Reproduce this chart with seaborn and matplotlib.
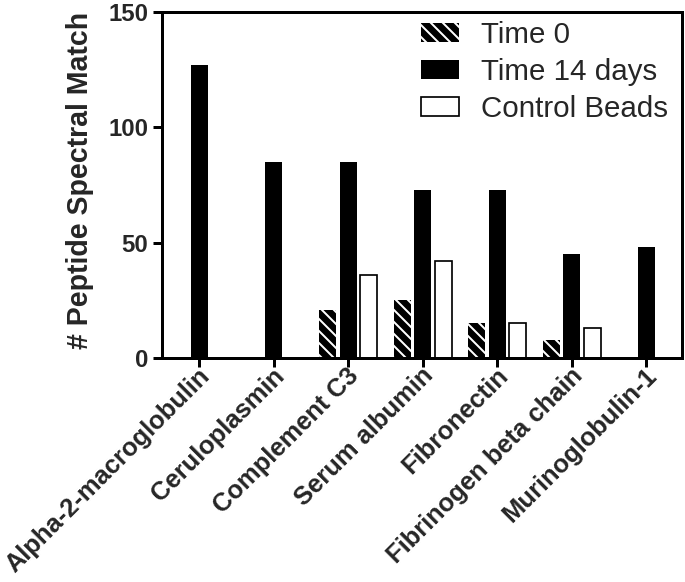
import numpy as np
import pandas as pd
import matplotlib
matplotlib.use("Agg")
import matplotlib.pyplot as plt
import matplotlib.transforms as mtransforms
import seaborn as sns

proteins = ["Alpha-2-macroglobulin", "Ceruloplasmin", "Complement C3",
            "Serum albumin", "Fibronectin", "Fibrinogen beta chain",
            "Murinoglobulin-1"]
conditions = ["Time 0", "Time 14 days", "Control Beads"]
time0 = [np.nan, np.nan, 21, 25, 15, 8, np.nan]
time14 = [127, 85, 85, 73, 73, 45, 48]
control = [np.nan, np.nan, 36, 42, 15, 13, np.nan]
y_ticks = [0, 50, 100, 150]

df = pd.DataFrame({
    "protein": proteins * 3,
    "condition": np.repeat(conditions, len(proteins)),
    "psm": time0 + time14 + control,
})

sns.set_style("ticks")
plt.rcParams["font.family"] = ["Liberation Sans", "DejaVu Sans"]
plt.rcParams["hatch.linewidth"] = 2.0

# dpi 72 -> 1 pt == 1 px
fig = plt.figure(figsize=(685 / 72, 582 / 72), dpi=72)
ax = fig.add_axes([162 / 685, 1 - 358 / 582, 520 / 685, 346 / 582])

sns.barplot(data=df, x="protein", y="psm", hue="condition",
            order=proteins, hue_order=conditions,
            palette=["black", "black", "white"],
            width=0.825, gap=0.15, errorbar=None, ax=ax,
            edgecolor="black", linewidth=1.7, legend=False)

for bars, name in zip(ax.containers, conditions):
    for p in bars:
        if name == "Time 0":
            p.set_facecolor("black")
            p.set_edgecolor("white")
            p.set_hatch("\\\\")
            p.set_linewidth(0)
        elif name == "Time 14 days":
            p.set_linewidth(0)

ax.set_xlim(-0.5, 6.48)
ax.set_ylim(0, 150)
ax.set_yticks(y_ticks)
ax.set_xlabel("")
ax.set_ylabel("# Peptide Spectral Match", fontsize=28.5, fontweight="bold")
ax.yaxis.set_label_coords(-0.13, 0.514)

for s in ax.spines.values():
    s.set_linewidth(3)
    s.set_color("black")
ax.tick_params(axis="both", length=9, width=3, color="black")
ax.tick_params(axis="y", labelsize=24, pad=5)
ax.tick_params(axis="x", labelsize=25.5, pad=5)
for t in ax.get_yticklabels():
    t.set_fontweight("bold")
shift = mtransforms.ScaledTranslation(7 / 72, 0, fig.dpi_scale_trans)
for t in ax.get_xticklabels():
    t.set_rotation(45)
    t.set_ha("right")
    t.set_va("center")
    t.set_rotation_mode("anchor")
    t.set_fontweight("bold")
    t.set_transform(t.get_transform() + shift)

leg = ax.legend(ax.containers, conditions, loc="upper right",
                bbox_to_anchor=(1, 1 + 5 / 346), frameon=False,
                fontsize=29.5, handlelength=1.3, handleheight=0.62,
                handletextpad=0.75, labelspacing=0.3, borderaxespad=0.35,
                borderpad=0.12)
leg.legend_handles[0].set_linewidth(0)

fig.savefig("out.png", dpi=72)
